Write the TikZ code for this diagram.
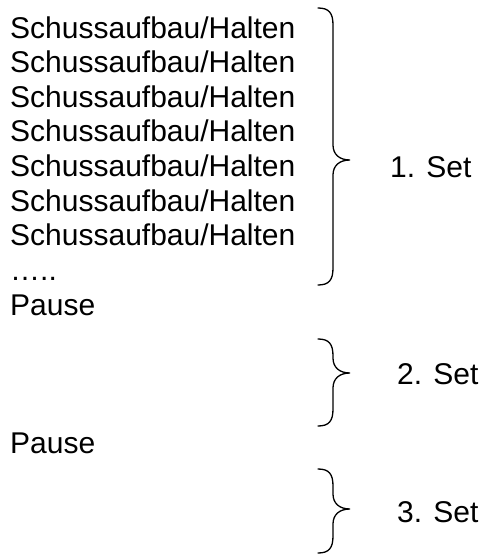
\documentclass[tikz,border=0pt]{standalone}
\usepackage{fontspec}
\setmainfont{Liberation Sans}

% brace: top, tip, bottom (y values)
\newcommand{\setklammer}[3]{%
  \draw[klammer] (318,#1) .. controls (329,#1) and (333,#1+5) .. (333,#1+17)
    -- (333,#2-15) .. controls (333,#2-6) and (339,#2) .. (350,#2)
    .. controls (339,#2) and (333,#2+6) .. (333,#2+15)
    -- (333,#3-17) .. controls (333,#3-5) and (329,#3) .. (318,#3);}

\begin{document}
\begin{tikzpicture}[x=1pt,y=-1pt,
  zeile/.style={anchor=base west, inner sep=0pt, font=\fontsize{30}{34}\selectfont},
  klammer/.style={line width=1.3pt, line cap=round}]
\useasboundingbox (0,0) rectangle (480,554);
% lines of the first set
\foreach \k in {1,...,7}
  \node[zeile] (l\k) at (10,{38+34.65*(\k-1)}) {Schussaufbau/Halten};
\node[zeile] (dots) at (10,280.5) {…..};
\node[zeile] (pause1) at (10,315.2) {Pause};
\node[zeile] (pause2) at (10,453.8) {Pause};
% braces
\setklammer{8}{160}{285}
\setklammer{339}{373}{426}
\setklammer{469}{509}{553}
% labels
\node[zeile] (set1) at (390,177) {1. Set};
\node[zeile] (set2) at (397,384.5) {2. Set};
\node[zeile] (set3) at (397,522) {3. Set};
\end{tikzpicture}
\end{document}
